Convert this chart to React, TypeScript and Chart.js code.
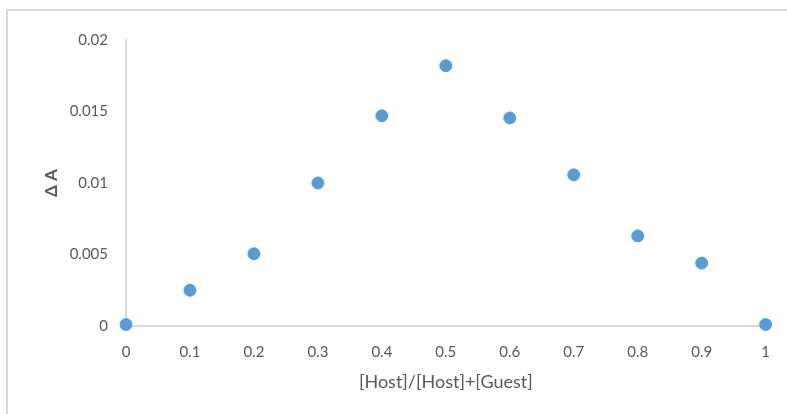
import React, { useEffect, useRef } from "react";
import { Chart, registerables } from "chart.js";

Chart.register(...registerables);

const xValues = [0, 0.1, 0.2, 0.3, 0.4, 0.5, 0.6, 0.7, 0.8, 0.9, 1];
const deltaA = [0.0001, 0.0025, 0.00505, 0.01, 0.0147, 0.0182, 0.01455, 0.01057, 0.0063, 0.0044, 0.0001];
const xTickLabels = ["0", "0.1", "0.2", "0.3", "0.4", "0.5", "0.6", "0.7", "0.8", "0.9", "1"];
const yTickValues = [0, 0.005, 0.01, 0.015, 0.02];
const yTickLabels = ["0", "0.005", "0.01", "0.015", "0.02"];
const xTitle = "[Host]/[Host]+[Guest]";
const yTitle = "Δ A";

const FONT = "Lato, 'Open Sans', sans-serif";
const TEXT = "#595959";

export default function App() {
  const ref = useRef<HTMLCanvasElement | null>(null);

  useEffect(() => {
    if (!ref.current) return;
    const chart = new Chart(ref.current, {
      type: "scatter",
      data: {
        datasets: [
          {
            data: xValues.map((x, i) => ({ x, y: deltaA[i] })),
            backgroundColor: "#5b9bd5",
            borderColor: "#5b9bd5",
            pointRadius: 6,
            pointHoverRadius: 6,
            clip: false,
          },
        ],
      },
      options: {
        animation: false,
        responsive: false,
        maintainAspectRatio: false,
        layout: { padding: { top: 40, right: 20, left: 0, bottom: 0 } },
        plugins: { legend: { display: false }, tooltip: { enabled: false } },
        scales: {
          x: {
            type: "linear",
            min: 0,
            max: 1,
            afterFit: (s: any) => {
              s.height = 88;
            },
            afterBuildTicks: (s: any) => {
              s.ticks = xValues.map((v) => ({ value: v }));
            },
            ticks: {
              color: TEXT,
              font: { family: FONT, size: 15 },
              padding: 17,
              maxRotation: 0,
              autoSkip: false,
              callback: (_v: any, i: number) => xTickLabels[i],
            },
            grid: { display: false, drawTicks: false },
            border: { display: true, color: "#d9d9d9", width: 2 },
            title: {
              display: true,
              text: xTitle,
              color: TEXT,
              font: { family: FONT, size: 18 },
              padding: { top: 0, bottom: 21 },
            },
          },
          y: {
            type: "linear",
            min: 0,
            max: 0.02,
            afterFit: (s: any) => {
              s.width = 126;
            },
            afterBuildTicks: (s: any) => {
              s.ticks = yTickValues.map((v) => ({ value: v }));
            },
            ticks: {
              color: TEXT,
              font: { family: FONT, size: 15 },
              padding: 18,
              callback: (_v: any, i: number) => yTickLabels[i],
            },
            grid: { display: false, drawTicks: false },
            border: { display: true, color: "#d9d9d9", width: 2 },
            title: {
              display: true,
              text: yTitle,
              color: TEXT,
              font: { family: FONT, size: 17, weight: "bold" },
              padding: { top: 41, bottom: 0 },
            },
          },
        },
      },
    });
    return () => chart.destroy();
  }, []);

  return (
    <div
      style={{
        position: "fixed",
        left: 0,
        top: 0,
        width: 787,
        height: 414,
        overflow: "hidden",
        background: "#ffffff",
      }}
    >
      <div
        style={{
          position: "absolute",
          left: 6,
          top: 9,
          width: 800,
          height: 430,
          borderTop: "2px solid #d9d9d9",
          borderLeft: "2px solid #d9d9d9",
        }}
      />
      <canvas
        ref={ref}
        width={787}
        height={414}
        style={{ position: "absolute", left: 0, top: 0, width: 787, height: 414 }}
      />
    </div>
  );
}
